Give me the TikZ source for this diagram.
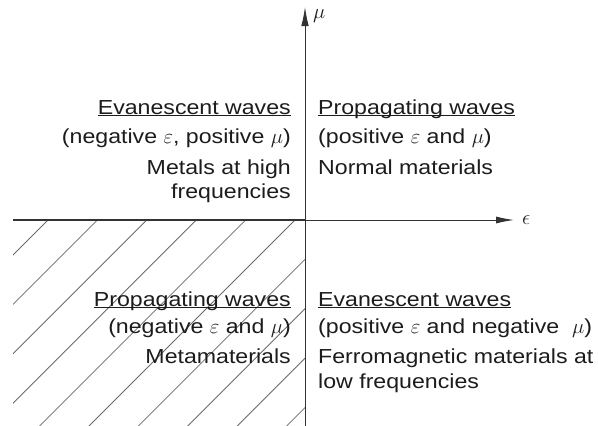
\documentclass[tikz,border=0pt]{standalone}
\usepackage{fontspec}
\setmainfont{Liberation Sans}[FakeStretch=1.14]
\usepackage{tikz}
\usetikzlibrary{arrows.meta}
\definecolor{inkdark}{HTML}{1c1c1c}
\definecolor{axisgray}{HTML}{333333}
\definecolor{hatchgray}{HTML}{6a6a6a}
\newcommand{\uln}[1]{\setbox0\hbox{#1}\rlap{\rule[-2.2pt]{\wd0}{0.9pt}}\box0}

\begin{document}
\begin{tikzpicture}[x=1pt, y=-1pt,
    every node/.style={font=\fontsize{20.3}{24}\selectfont, text=inkdark, inner sep=0pt},
    leftline/.style={anchor=base east},
    rightline/.style={anchor=base west}]
  \useasboundingbox (0,0) rectangle (598,426);
  % hatching of the third quadrant
  \begin{scope}
    \clip (13,220) rectangle (305,426);
    \foreach \k in {-1,...,10} {
      \draw[hatchgray, line width=0.8pt] ({48+49.4*\k},220) -- ++(-230,230);
    }
  \end{scope}
  % axes
  \coordinate (origin) at (305,220);
  \coordinate (west) at (13,220);
  \coordinate (south) at (305,426);
  \coordinate (epstip) at (514,220);
  \coordinate (mutip) at (305,7);
  \draw[axisgray, line width=1.7pt] (west) -- (origin);
  \draw[axisgray, line width=0.9pt, -{Latex[length=18pt,width=7pt]}] (origin) -- (epstip);
  \draw[axisgray, line width=0.9pt, -{Latex[length=19pt,width=7.5pt]}] (south) -- (mutip);
  \node[anchor=west] (epslab) at ([xshift=8pt]epstip) {$\epsilon$};
  \node[anchor=west] (mulab) at (313,16) {$\mu$};
  % quadrant II
  \node[leftline] (ewtitle) at (291,114) {\uln{Evanescent waves}};
  \node[leftline] (ewsign) at (291,143) {(negative $\varepsilon$, positive $\mu$)};
  \node[leftline] (ewmat) at (291,174) {Metals at high};
  \node[leftline] (ewfreq) at (291,198) {frequencies};
  % quadrant I
  \node[rightline] (pwtitle) at (318,114) {\uln{Propagating waves}};
  \node[rightline] (pwsign) at (318,143) {(positive $\varepsilon$ and $\mu$)};
  \node[rightline] (pwmat) at (318,174) {Normal materials};
  % quadrant III
  \node[leftline] (nwtitle) at (291,306) {\uln{Propagating waves}};
  \node[leftline] (nwsign) at (291,333) {(negative $\varepsilon$ and $\mu$)};
  \node[leftline] (nwmat) at (291,363) {Metamaterials};
  % quadrant IV
  \node[rightline] (fwtitle) at (318,306) {\uln{Evanescent waves}};
  \node[rightline] (fwsign) at (318,333) {(positive $\varepsilon$ and negative\ \ $\mu$)};
  \node[rightline] (fwmat) at (318,363) {Ferromagnetic materials at};
  \node[rightline] (fwfreq) at (318,388) {low frequencies};
\end{tikzpicture}
\end{document}
